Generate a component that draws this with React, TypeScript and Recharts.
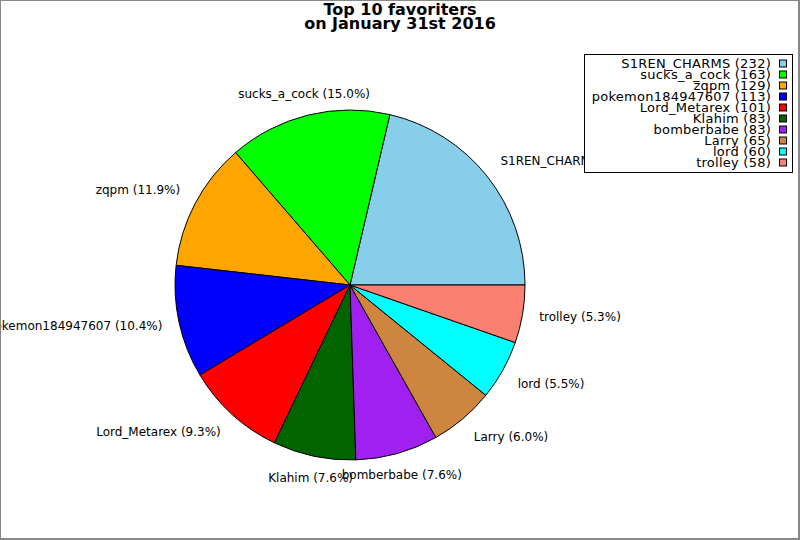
import React from 'react';
import { PieChart, Pie, Cell } from 'recharts';

const names = ['S1REN_CHARMS', 'sucks_a_cock', 'zqpm', 'pokemon184947607', 'Lord_Metarex', 'Klahim', 'bomberbabe', 'Larry', 'lord', 'trolley'];
const counts = [232, 163, 129, 113, 101, 83, 83, 65, 60, 58];
const colors = ['#87CEEB', '#00FF00', '#FFA500', '#0000FF', '#FF0000', '#006400', '#A020F0', '#CD853F', '#00FFFF', '#FA8072'];
const titleLines = ['Top 10 favoriters', 'on January 31st 2016'];

const data = names.map((n, i) => ({ name: n, value: counts[i] }));

const FONT = '"DejaVu Sans", sans-serif';
const RAD = Math.PI / 180;

const renderLabel = (props: any) => {
  const { cx, cy, midAngle, outerRadius, percent, name } = props;
  const r = outerRadius + 17;
  const c = Math.cos(midAngle * RAD);
  const s = Math.sin(midAngle * RAD);
  const x = cx + r * c;
  const y = cy - r * s;
  const anchor = c > 0.5 ? 'start' : c < -0.5 ? 'end' : 'middle';
  const k = Math.min(1, Math.max(0, (Math.abs(s) - 0.2) * 4));
  const dy = -Math.sign(s) * 5 * k;
  return (
    <text x={x} y={y + dy} textAnchor={anchor} dominantBaseline="central" fontFamily={FONT} fontSize={12} fill="#000">
      {`${name} (${(percent * 100).toFixed(1)}%)`}
    </text>
  );
};

export default function App() {
  return (
    <div style={{ position: 'absolute', left: 0, top: 0, width: 800, height: 540, background: '#fff' }}>
      <PieChart width={800} height={540} margin={{ top: 0, right: 0, bottom: 0, left: 0 }}>
        <Pie
          data={data}
          dataKey="value"
          nameKey="name"
          cx={350}
          cy={285}
          outerRadius={175}
          startAngle={0}
          endAngle={360}
          stroke="#000"
          strokeWidth={1}
          label={renderLabel}
          labelLine={false}
          isAnimationActive={false}
        >
          {data.map((d, i) => (
            <Cell key={d.name} fill={colors[i]} />
          ))}
        </Pie>
      </PieChart>
      <svg width={800} height={40} style={{ position: 'absolute', left: 0, top: 0, pointerEvents: 'none' }}>
        {titleLines.map((t, i) => (
          <text key={t} x={400} y={15 + i * 14} textAnchor="middle" fontFamily={FONT} fontWeight="bold" fontSize={16} fill="#000">
            {t}
          </text>
        ))}
      </svg>
      <div
        style={{
          position: 'absolute',
          left: 584,
          top: 54,
          width: 209,
          height: 119,
          boxSizing: 'border-box',
          border: '1px solid #000',
          background: '#fff',
        }}
      >
        <svg width={207} height={117} style={{ position: 'absolute', left: 0, top: 0 }}>
          {names.map((n, i) => (
            <g key={n}>
              <text
                x={186}
                y={8.5 + i * 11}
                textAnchor="end"
                dominantBaseline="central"
                fontFamily={FONT}
                fontSize={13}
                letterSpacing={0.25}
                fill="#000"
              >
                {`${n} (${counts[i]})`}
              </text>
              <rect x={194.5} y={5 + i * 11} width={7} height={7} fill={colors[i]} stroke="#000" strokeWidth={1} />
            </g>
          ))}
        </svg>
      </div>
      <div
        style={{
          position: 'absolute',
          left: 0,
          top: 0,
          width: 800,
          height: 540,
          boxSizing: 'border-box',
          borderTop: '1px solid #888',
          borderLeft: '1px solid #888',
          borderRight: '2px solid #888',
          borderBottom: '2px solid #888',
          pointerEvents: 'none',
        }}
      />
    </div>
  );
}
